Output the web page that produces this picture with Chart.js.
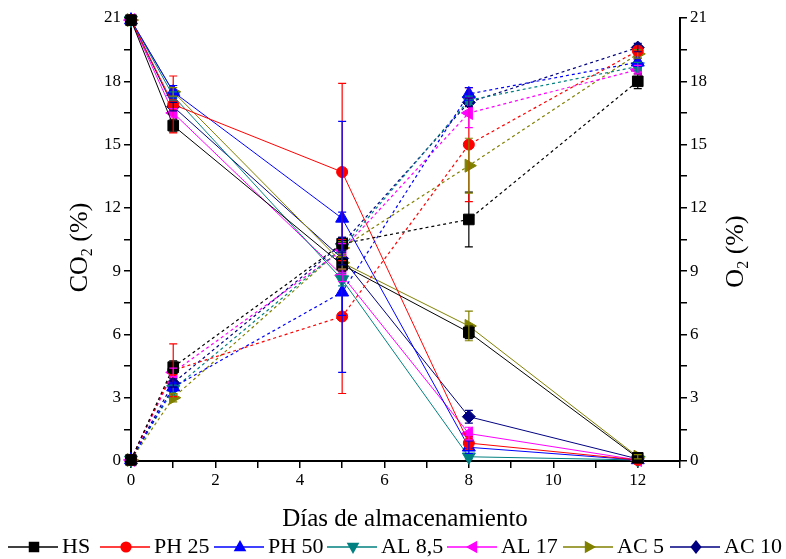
<!DOCTYPE html>
<html>
<head>
    <title>CO2 / O2</title>
    <script src="https://cdn.jsdelivr.net/npm/chart.js"></script>
    <style>
        body { margin: 0; background: #fff; }
        #wrap { width: 786px; height: 559px; }
    </style>
</head>
<body>
    <div id="wrap"><canvas id="gasChart" width="786" height="559"></canvas></div>

    <script>
    // storage days
    const days = [0, 1, 5, 8, 12];
    const names = ['HS', 'PH 25', 'PH 50', 'AL 8,5', 'AL 17', 'AC 5', 'AC 10'];
    const colors = ['#000000', '#ff0000', '#0000ff', '#008080', '#ff00ff', '#808000', '#000080'];

    // O2 (%) - solid lines
    const o2HS   = [20.9, 15.9, 9.3, 6.1, 0.15];
    const o2PH25 = [20.9, 16.9, 13.7, 0.85, 0.05];
    const o2PH50 = [20.9, 17.5, 11.5, 0.65, 0.05];
    const o2AL85 = [20.9, 17.3, 8.6, 0.2, 0.05];
    const o2AL17 = [20.9, 16.5, 8.8, 1.3, 0.05];
    const o2AC5  = [20.9, 17.5, 9.4, 6.4, 0.2];
    const o2AC10 = [20.9, 16.8, 9.6, 2.1, 0.1];

    // CO2 (%) - dashed lines
    const co2HS   = [0.05, 4.45, 10.3, 11.45, 18.0];
    const co2PH25 = [0.05, 4.3, 6.85, 15.0, 19.45];
    const co2PH50 = [0.05, 3.5, 8.0, 17.4, 18.9];
    const co2AL85 = [0.05, 3.4, 10.1, 17.1, 18.7];
    const co2AL17 = [0.05, 4.2, 10.0, 16.5, 18.55];
    const co2AC5  = [0.05, 3.0, 10.1, 14.0, 19.3];
    const co2AC10 = [0.05, 3.7, 10.3, 17.0, 19.6];

    // standard deviations
    const sdO2HS   = [0, 0.3, 0.3, 0.3, 0.1];
    const sdO2PH25 = [0, 1.35, 4.2, 0.3, 0];
    const sdO2PH50 = [0, 0.3, 4.6, 0.3, 0];
    const sdO2AL85 = [0, 0.2, 0.3, 0.1, 0];
    const sdO2AL17 = [0, 0.2, 0.3, 0.3, 0];
    const sdO2AC5  = [0, 0.2, 0.3, 0.7, 0.1];
    const sdO2AC10 = [0, 0.2, 0.3, 0.3, 0];

    const sdCO2HS   = [0, 0.3, 0.3, 1.3, 0.35];
    const sdCO2PH25 = [0, 1.25, 3.65, 2.7, 0.2];
    const sdCO2PH50 = [0, 0.2, 3.8, 0.3, 0.2];
    const sdCO2AL85 = [0, 0.2, 0.3, 0.2, 0.2];
    const sdCO2AL17 = [0, 0.2, 0.3, 0.7, 0.2];
    const sdCO2AC5  = [0, 0.2, 0.3, 1.3, 0.2];
    const sdCO2AC10 = [0, 0.2, 0.3, 0.2, 0.2];

    const yTicks = [0, 3, 6, 9, 12, 15, 18, 21];
    const xTicks = [0, 2, 4, 6, 8, 10, 12];

    const o2 = [o2HS, o2PH25, o2PH50, o2AL85, o2AL17, o2AC5, o2AC10];
    const co2 = [co2HS, co2PH25, co2PH50, co2AL85, co2AL17, co2AC5, co2AC10];
    const sdO2 = [sdO2HS, sdO2PH25, sdO2PH50, sdO2AL85, sdO2AL17, sdO2AC5, sdO2AC10];
    const sdCO2 = [sdCO2HS, sdCO2PH25, sdCO2PH50, sdCO2AL85, sdCO2AL17, sdCO2AC5, sdCO2AC10];

    // marker shape per series
    const markers = [
        { style: 'rect', rot: 0, r: 7.5 },
        { style: 'circle', rot: 0, r: 5.5 },
        { style: 'triangle', rot: 0, r: 7.5 },
        { style: 'triangle', rot: 180, r: 7.5 },
        { style: 'triangle', rot: 270, r: 7.5 },
        { style: 'triangle', rot: 90, r: 7.5 },
        { style: 'rectRot', rot: 0, r: 6.5 }
    ];

    const SERIF = '"Liberation Serif", "Times New Roman", serif';

    function makeSet(values, sd, i, dashed) {
        return {
            label: names[i],
            data: days.map((d, j) => ({ x: d, y: values[j] })),
            errors: sd,
            yAxisID: dashed ? 'y' : 'y1',
            borderColor: colors[i],
            backgroundColor: colors[i],
            borderWidth: dashed ? 1.2 : 1,
            borderDash: dashed ? [3, 3] : [],
            pointStyle: markers[i].style,
            pointRotation: markers[i].rot,
            pointRadius: markers[i].r,
            pointBorderWidth: 1,
            tension: 0,
            clip: false
        };
    }

    const datasets = [];
    for (let i = 0; i < names.length; i++) datasets.push(makeSet(co2[i], sdCO2[i], i, true));
    for (let i = 0; i < names.length; i++) datasets.push(makeSet(o2[i], sdO2[i], i, false));

    const errorBars = {
        id: 'errorBars',
        afterDatasetsDraw(chart) {
            const c = chart.ctx;
            chart.data.datasets.forEach((ds, i) => {
                const meta = chart.getDatasetMeta(i);
                const sc = chart.scales[ds.yAxisID];
                c.save();
                c.strokeStyle = ds.borderColor;
                c.lineWidth = 1.2;
                meta.data.forEach((pt, j) => {
                    const e = ds.errors[j];
                    if (!e) return;
                    const v = ds.data[j].y;
                    const top = sc.getPixelForValue(v + e);
                    const bot = sc.getPixelForValue(v - e);
                    c.beginPath();
                    c.moveTo(pt.x, top); c.lineTo(pt.x, bot);
                    c.moveTo(pt.x - 4, top); c.lineTo(pt.x + 4, top);
                    c.moveTo(pt.x - 4, bot); c.lineTo(pt.x + 4, bot);
                    c.stroke();
                });
                c.restore();
            });
        }
    };

    // text with a subscript "2", rotated to read bottom-up
    function gasTitle(c, x, y, base, rest) {
        c.save();
        c.translate(x, y);
        c.rotate(-Math.PI / 2);
        c.fillStyle = '#000';
        c.textBaseline = 'middle';
        const big = '26px ' + SERIF, small = '16px ' + SERIF;
        c.font = big;
        const w1 = c.measureText(base).width;
        const w3 = c.measureText(rest).width;
        c.font = small;
        const w2 = c.measureText('2').width;
        let sx = -(w1 + w2 + w3) / 2;
        c.font = big; c.fillText(base, sx, 0); sx += w1;
        c.font = small; c.fillText('2', sx, 8); sx += w2;
        c.font = big; c.fillText(rest, sx, 0);
        c.restore();
    }

    function drawMarker(c, style, rot, x, y, r) {
        c.save();
        c.translate(x, y);
        c.rotate(rot * Math.PI / 180);
        c.beginPath();
        if (style === 'circle') {
            c.arc(0, 0, r * 0.8, 0, Math.PI * 2);
        } else if (style === 'rect') {
            const s = r * 0.75;
            c.rect(-s, -s, 2 * s, 2 * s);
        } else if (style === 'rectRot') {
            c.moveTo(0, -r); c.lineTo(r * 0.8, 0); c.lineTo(0, r); c.lineTo(-r * 0.8, 0);
            c.closePath();
        } else {
            c.moveTo(0, -r); c.lineTo(r * 0.9, r * 0.6); c.lineTo(-r * 0.9, r * 0.6);
            c.closePath();
        }
        c.fill();
        c.restore();
    }

    const decorations = {
        id: 'decorations',
        afterDraw(chart) {
            const c = chart.ctx;
            const area = chart.chartArea;
            const midY = (area.top + area.bottom) / 2;
            gasTitle(c, 80, midY + 8, 'CO', ' (%)');
            gasTitle(c, 736, midY + 12, 'O', ' (%)');

            c.save();
            c.fillStyle = '#000';
            c.font = '25px ' + SERIF;
            c.textAlign = 'center';
            c.textBaseline = 'middle';
            c.fillText('Días de almacenamiento', 405, 519);

            // legend: line + marker + name
            const starts = [8, 100, 214, 327, 447, 563, 670];
            const ly = 547;
            c.font = '22px ' + SERIF;
            c.textAlign = 'left';
            names.forEach((n, i) => {
                const x0 = starts[i];
                c.strokeStyle = colors[i];
                c.lineWidth = 1.5;
                c.beginPath();
                c.moveTo(x0, ly); c.lineTo(x0 + 50, ly);
                c.stroke();
                c.fillStyle = colors[i];
                drawMarker(c, markers[i].style, markers[i].rot, x0 + 26, ly, 7);
                c.fillStyle = '#000';
                c.fillText(n, x0 + 54, ly);
            });
            c.restore();
        }
    };

    function yAxis(position, width) {
        return {
            type: 'linear',
            position: position,
            min: 0,
            max: 21,
            afterBuildTicks: s => { s.ticks = []; for (let v = 0; v <= 21; v += 1.5) s.ticks.push({ value: v }); },
            ticks: {
                color: '#000',
                font: { family: SERIF, size: 17 },
                padding: 3,
                callback: v => yTicks.includes(v) ? v : ''
            },
            grid: { drawOnChartArea: false, drawTicks: true, tickLength: 7, color: '#000', lineWidth: 1.5 },
            border: { display: true, color: '#000', width: 2 },
            afterFit: s => { s.width = width; }
        };
    }

    new Chart(document.getElementById('gasChart').getContext('2d'), {
        type: 'line',
        data: { datasets: datasets },
        options: {
            responsive: false,
            animation: false,
            layout: { padding: { top: 18, left: 0, right: 0, bottom: 0 } },
            plugins: { legend: { display: false }, tooltip: { enabled: false } },
            scales: {
                x: {
                    type: 'linear',
                    min: 0,
                    max: 13,
                    afterBuildTicks: s => { s.ticks = []; for (let v = 0; v <= 13; v++) s.ticks.push({ value: v }); },
                    ticks: {
                        color: '#000',
                        font: { family: SERIF, size: 17 },
                        padding: 2,
                        maxRotation: 0,
                        callback: v => xTicks.includes(v) ? v : ''
                    },
                    grid: { drawOnChartArea: false, drawTicks: true, tickLength: 7, color: '#000', lineWidth: 1.5 },
                    border: { display: true, color: '#000', width: 2 },
                    afterFit: s => { s.height = 98; }
                },
                y: yAxis('left', 131),
                y1: yAxis('right', 106)
            }
        },
        plugins: [errorBars, decorations]
    });
    </script>
</body>
</html>
